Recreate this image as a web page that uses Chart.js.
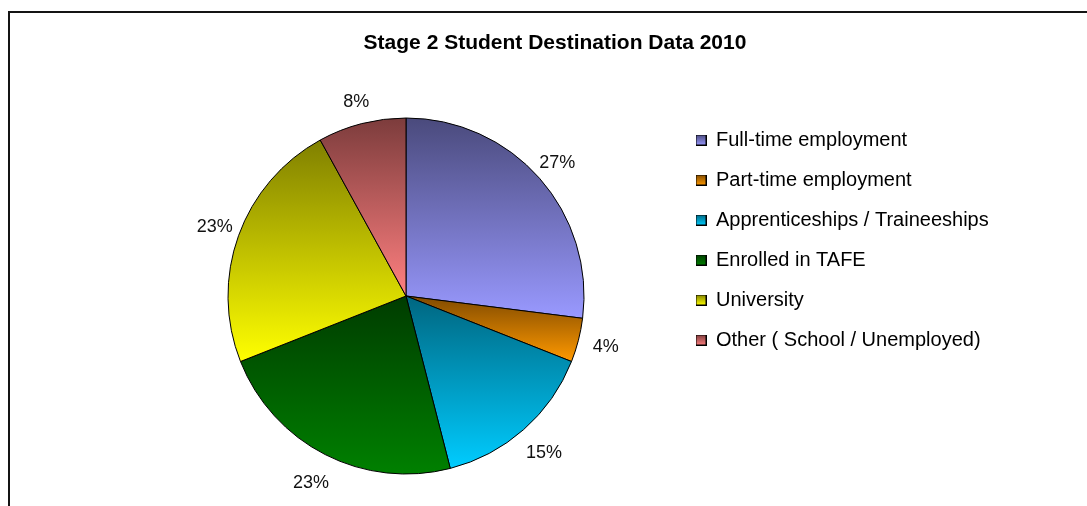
<!DOCTYPE html>
<html>
<head>
<meta charset="utf-8">
<script src="https://cdn.jsdelivr.net/npm/chart.js@4"></script>
<style>
  html, body { margin: 0; padding: 0; background: #fff; overflow: hidden; }
  #wrap { position: relative; width: 1087px; height: 506px; }
  #wrap canvas { position: absolute; left: 0; top: 0; }
  #frame {
    position: absolute; left: 8px; top: 11px; right: -20px; bottom: -20px;
    border-top: 2px solid #141414; border-left: 2px solid #141414;
    pointer-events: none;
  }
</style>
</head>
<body>
<div id="wrap">
  <canvas id="chart" width="1087" height="506"></canvas>
  <div id="frame"></div>
</div>
<script>
// Destination data (percent of Stage 2 students)
const chartTitle = 'Stage 2 Student Destination Data 2010';
const categories = [
  'Full-time employment',
  'Part-time employment',
  'Apprenticeships / Traineeships',
  'Enrolled in TAFE',
  'University',
  'Other ( School / Unemployed)'
];
const shares = [27, 4, 15, 23, 23, 8];

// Each slice fades from a dark shade (top) to its full colour (bottom)
const baseColours  = ['#9999ff', '#ff9900', '#00ccff', '#008000', '#ffff00', '#ff8080'];
const shadeColours = ['#4a4a7c', '#804a00', '#006680', '#003c00', '#808000', '#7c3c3c'];

const FONT = '"Liberation Sans", Arial, Helvetica, sans-serif';
const LEGEND_SIZE = 20;
const LEGEND_GAP = 20;
const MARKER_W = 10;

// Horizontal targets: pie centre, first legend marker, title centre
const PIE_CX = 406, LEGEND_X = 696, TITLE_CX = 555, CANVAS_W = 1087;

// Paddings and left spacer derived from the legend's width
const geom = { spacer: 0, left: 0, right: 0 };
function fitGeometry(legendWidth) {
  const legendLeft = LEGEND_X - LEGEND_GAP;
  geom.spacer = Math.max(legendWidth - 2 * (TITLE_CX - PIE_CX), 0);
  geom.right = CANVAS_W - (legendLeft + legendWidth);
  geom.left = 2 * PIE_CX - legendLeft - geom.spacer;
}
const measureCtx = document.createElement('canvas').getContext('2d');
measureCtx.font = LEGEND_SIZE + 'px ' + FONT;
fitGeometry(LEGEND_GAP + MARKER_W + LEGEND_SIZE / 2 +
  Math.max(...categories.map(t => measureCtx.measureText(t).width)));

// Small gradient swatches used as legend markers
const swatches = baseColours.map((c, i) => {
  const s = document.createElement('canvas');
  s.width = 11; s.height = 11;
  const g = s.getContext('2d');
  const grad = g.createLinearGradient(0, 0, 0, 11);
  grad.addColorStop(0, shadeColours[i]);
  grad.addColorStop(1, c);
  g.fillStyle = grad;
  g.fillRect(0, 0, 11, 11);
  g.strokeStyle = '#000';
  g.lineWidth = 1;
  g.strokeRect(0.5, 0.5, 10, 10);
  return s;
});

// Empty box on the left so the pie sits left of the title centre
// (display:false keeps it from halving the legend's width budget)
const leftSpacer = {
  id: 'leftSpacer',
  beforeInit(chart) {
    Chart.layouts.addBox(chart, {
      position: 'left',
      weight: 0,
      fullSize: false,
      options: { display: false },
      width: 0,
      height: 0,
      isHorizontal() { return false; },
      update(maxWidth, maxHeight) { this.width = geom.spacer; this.height = maxHeight; },
      draw() {}
    });
  },
  beforeLayout(chart) {
    chart.options.layout.padding = { left: geom.left, right: geom.right, top: 0, bottom: 24 };
  }
};

// Vertical extent of a pie sector, used for its gradient
function sectorExtent(arc) {
  const { y, startAngle, endAngle, outerRadius } = arc;
  const ys = [y, y + outerRadius * Math.sin(startAngle), y + outerRadius * Math.sin(endAngle)];
  for (const a of [-Math.PI / 2, Math.PI / 2, 3 * Math.PI / 2, 5 * Math.PI / 2]) {
    if (a >= startAngle && a <= endAngle) ys.push(y + outerRadius * Math.sin(a));
  }
  return [Math.min(...ys), Math.max(...ys)];
}

const sliceGradient = {
  id: 'sliceGradient',
  beforeDatasetsDraw(chart) {
    const ctx = chart.ctx;
    chart.getDatasetMeta(0).data.forEach((arc, i) => {
      const [top, bottom] = sectorExtent(arc);
      const grad = ctx.createLinearGradient(0, top, 0, bottom);
      grad.addColorStop(0, shadeColours[i]);
      grad.addColorStop(1, baseColours[i]);
      arc.options = Object.assign({}, arc.options, { backgroundColor: grad });
    });
  }
};

// Percentage labels just outside each slice
const sliceLabels = {
  id: 'sliceLabels',
  afterDatasetsDraw(chart) {
    const ctx = chart.ctx;
    const data = chart.data.datasets[0].data;
    ctx.save();
    ctx.font = '18px ' + FONT;
    ctx.fillStyle = '#111';
    ctx.textAlign = 'center';
    ctx.textBaseline = 'middle';
    chart.getDatasetMeta(0).data.forEach((arc, i) => {
      const mid = (arc.startAngle + arc.endAngle) / 2;
      const d = arc.outerRadius + 27 + 5 * Math.sin(mid);
      ctx.fillText(data[i] + '%', arc.x + d * Math.cos(mid), arc.y + d * Math.sin(mid));
    });
    ctx.restore();
  }
};

const chart = new Chart(document.getElementById('chart'), {
  type: 'pie',
  data: {
    labels: categories,
    datasets: [{
      data: shares,
      backgroundColor: baseColours,
      borderColor: '#000',
      borderWidth: 1,
      radius: 178
    }]
  },
  options: {
    responsive: false,
    animation: false,
    devicePixelRatio: 1,
    events: [],
    layout: { padding: 0 },
    plugins: {
      title: {
        display: true,
        text: chartTitle,
        color: '#000',
        font: { family: FONT, size: 21, weight: 'bold' },
        padding: { top: 30.9, bottom: 53.9 }
      },
      legend: {
        display: true,
        position: 'right',
        align: 'start',
        fullSize: false,
        labels: {
          usePointStyle: true,
          pointStyleWidth: MARKER_W,
          padding: LEGEND_GAP,
          color: '#000',
          font: { family: FONT, size: LEGEND_SIZE },
          generateLabels: () => categories.map((text, i) => ({
            text,
            fillStyle: baseColours[i],
            strokeStyle: '#000',
            lineWidth: 1,
            pointStyle: swatches[i],
            hidden: false,
            index: i,
            fontColor: '#000'
          }))
        }
      },
      tooltip: { enabled: false }
    }
  },
  plugins: [leftSpacer, sliceGradient, sliceLabels]
});

// Re-fit using the width the legend actually took
fitGeometry(chart.legend.width);
chart.update('none');
</script>
</body>
</html>
